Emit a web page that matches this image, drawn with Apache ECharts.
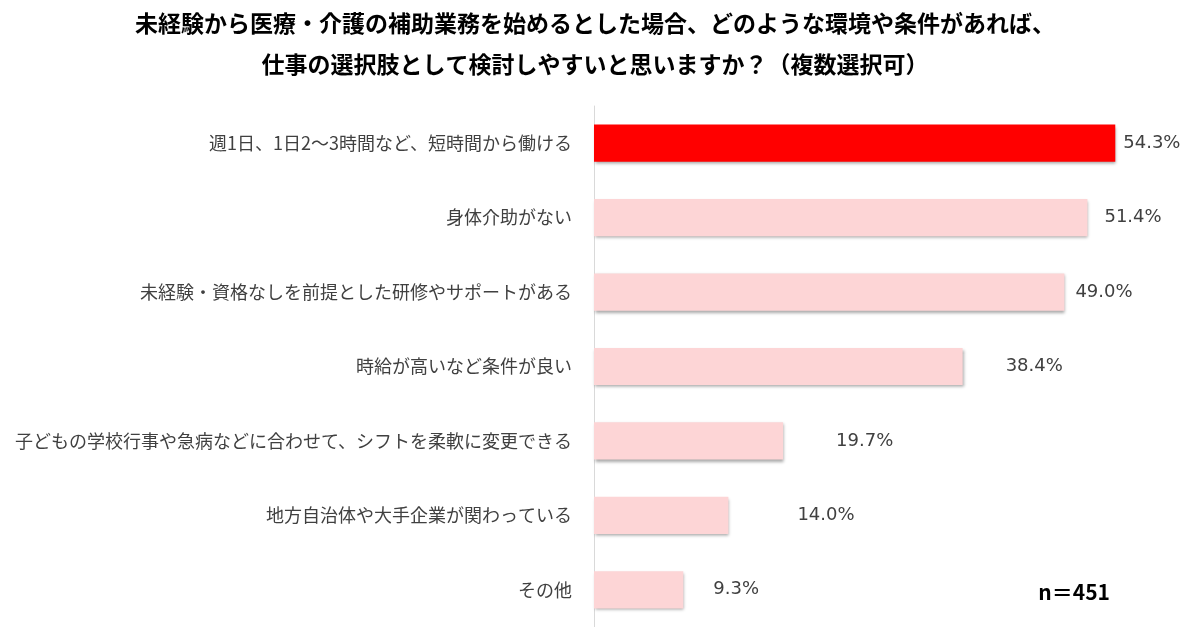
<!DOCTYPE html>
<html>
<head>
<meta charset="utf-8">
<script src="https://cdn.jsdelivr.net/npm/echarts@6/dist/echarts.min.js"></script>
<style>
  html, body { margin: 0; padding: 0; background: #fff; }
  #chart { width: 1200px; height: 627px; }
</style>
</head>
<body>
<div id="chart"></div>
<script>
const titleLines = [
  '未経験から医療・介護の補助業務を始めるとした場合、どのような環境や条件があれば、',
  '仕事の選択肢として検討しやすいと思いますか？（複数選択可）'
];
const categories = [
  '週1日、1日2～3時間など、短時間から働ける',
  '身体介助がない',
  '未経験・資格なしを前提とした研修やサポートがある',
  '時給が高いなど条件が良い',
  '子どもの学校行事や急病などに合わせて、シフトを柔軟に変更できる',
  '地方自治体や大手企業が関わっている',
  'その他'
];
const percents = [54.3, 51.4, 49.0, 38.4, 19.7, 14.0, 9.3];
const sampleNote = 'n＝451';

// label gaps from bar end (style only, as placed in the source chart)
const labelGaps = [8, 17, 11, 43, 53, 69, 30];

const chart = echarts.init(document.getElementById('chart'));

const seriesData = percents.map((v, i) => ({
  value: v,
  itemStyle: { color: i === 0 ? '#FF0000' : '#FDD5D6' },
  label: { distance: labelGaps[i] }
}));

chart.setOption({
  animation: false,
  title: {
    text: titleLines.join('\n'),
    left: 590,
    textAlign: 'center',
    top: -2,
    textStyle: {
      fontFamily: 'Noto Sans CJK JP',
      fontSize: 23,
      fontWeight: 'bold',
      color: '#000',
      lineHeight: 41
    }
  },
  graphic: [{
    type: 'text',
    right: 90,
    top: 582,
    style: {
      text: sampleNote,
      font: 'bold 21px "Noto Sans CJK JP"',
      fill: '#000'
    }
  }],
  grid: { left: 594, right: 30, top: 106, bottom: 0 },
  xAxis: {
    type: 'value',
    min: 0,
    max: 60,
    show: false
  },
  yAxis: {
    type: 'category',
    inverse: true,
    data: categories,
    axisLine: { show: true, lineStyle: { color: '#D9D9D9', width: 1 } },
    axisTick: { show: false },
    axisLabel: {
      margin: 22,
      color: '#404040',
      fontSize: 18,
      fontFamily: 'Noto Sans CJK JP'
    }
  },
  series: [{
    type: 'bar',
    data: seriesData,
    barWidth: '50%',
    itemStyle: {
      shadowColor: 'rgba(0,0,0,0.35)',
      shadowBlur: 3,
      shadowOffsetX: 1,
      shadowOffsetY: 2
    },
    label: {
      show: true,
      position: 'right',
      formatter: p => p.value.toFixed(1) + '%',
      color: '#404040',
      fontSize: 18,
      fontFamily: 'DejaVu Sans'
    }
  }]
});
</script>
</body>
</html>
